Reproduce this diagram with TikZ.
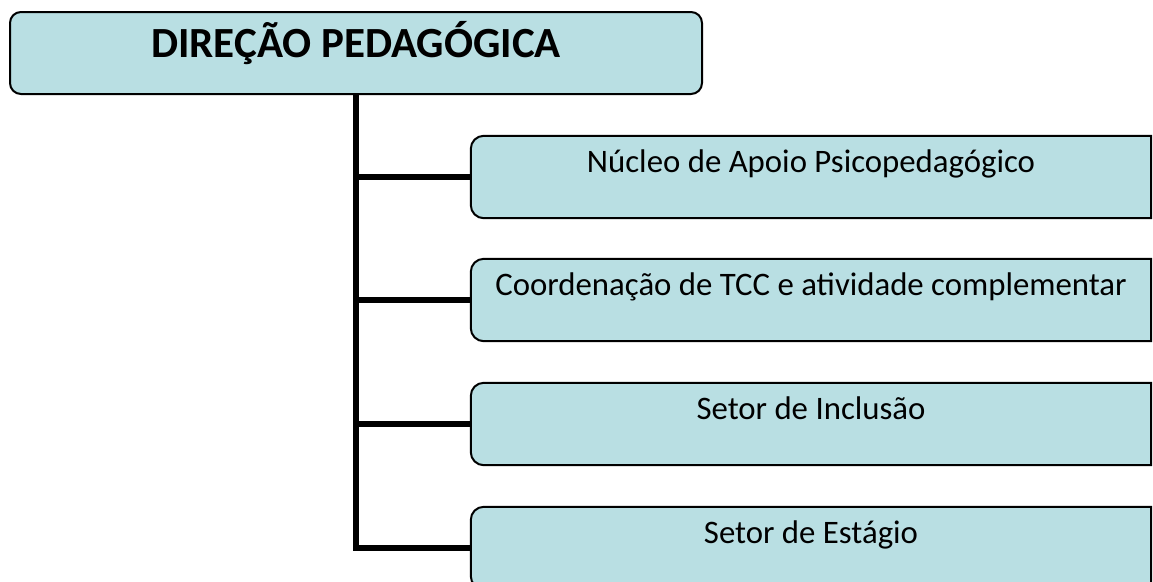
\documentclass[tikz,border=0pt]{standalone}
\usepackage{fontspec}
\setmainfont{Carlito}
\pgfdeclarelayer{background}
\pgfsetlayers{background,main}
\definecolor{boxfill}{HTML}{B9DFE3}
\tikzset{
  x=1pt,y=1pt,
  topbox/.style={draw=black, fill=boxfill, line width=2pt, rounded corners=11pt,
    minimum width=692pt, inner sep=0pt, text height=45pt, text depth=37pt,
    font=\fontsize{43}{46}\selectfont\bfseries},
  childbox/.style={inner sep=0pt, minimum width=680pt, text height=36pt, text depth=46pt,
    font=\fontsize{32.8}{36}\selectfont},
  childshape/.style={draw=black, fill=boxfill, line width=2pt},
  conn/.style={draw=black, line width=6pt}
}
\newcommand{\leftroundbox}[1]{%
  \path[childshape] (#1.north east) -- ([xshift=13pt]#1.north west)
    arc[start angle=90, end angle=180, radius=13pt]
    -- ([yshift=13pt]#1.south west)
    arc[start angle=180, end angle=270, radius=13pt]
    -- (#1.south east) -- cycle;}
\begin{document}
\begin{tikzpicture}
\useasboundingbox (0,0) rectangle (1153,-581);
\node[topbox] (dir) at (356,-53) {DIREÇÃO PEDAGÓGICA};
\node[childbox] (c1) at (811,-177) {Núcleo de Apoio Psicopedagógico};
\node[childbox] (c2) at (811,-300) {Coordenação de TCC e atividade complementar};
\node[childbox] (c3) at (811,-424) {Setor de Inclusão};
\node[childbox] (c4) at (811,-548) {Setor de Estágio};
\begin{pgfonlayer}{background}
\leftroundbox{c1}
\leftroundbox{c2}
\leftroundbox{c3}
\leftroundbox{c4}
\draw[conn] (dir.south) -- (dir.south |- c4.west) -- (c4.west);
\draw[conn] (dir.south |- c1.west) -- (c1.west);
\draw[conn] (dir.south |- c2.west) -- (c2.west);
\draw[conn] (dir.south |- c3.west) -- (c3.west);
\end{pgfonlayer}
\end{tikzpicture}
\end{document}
